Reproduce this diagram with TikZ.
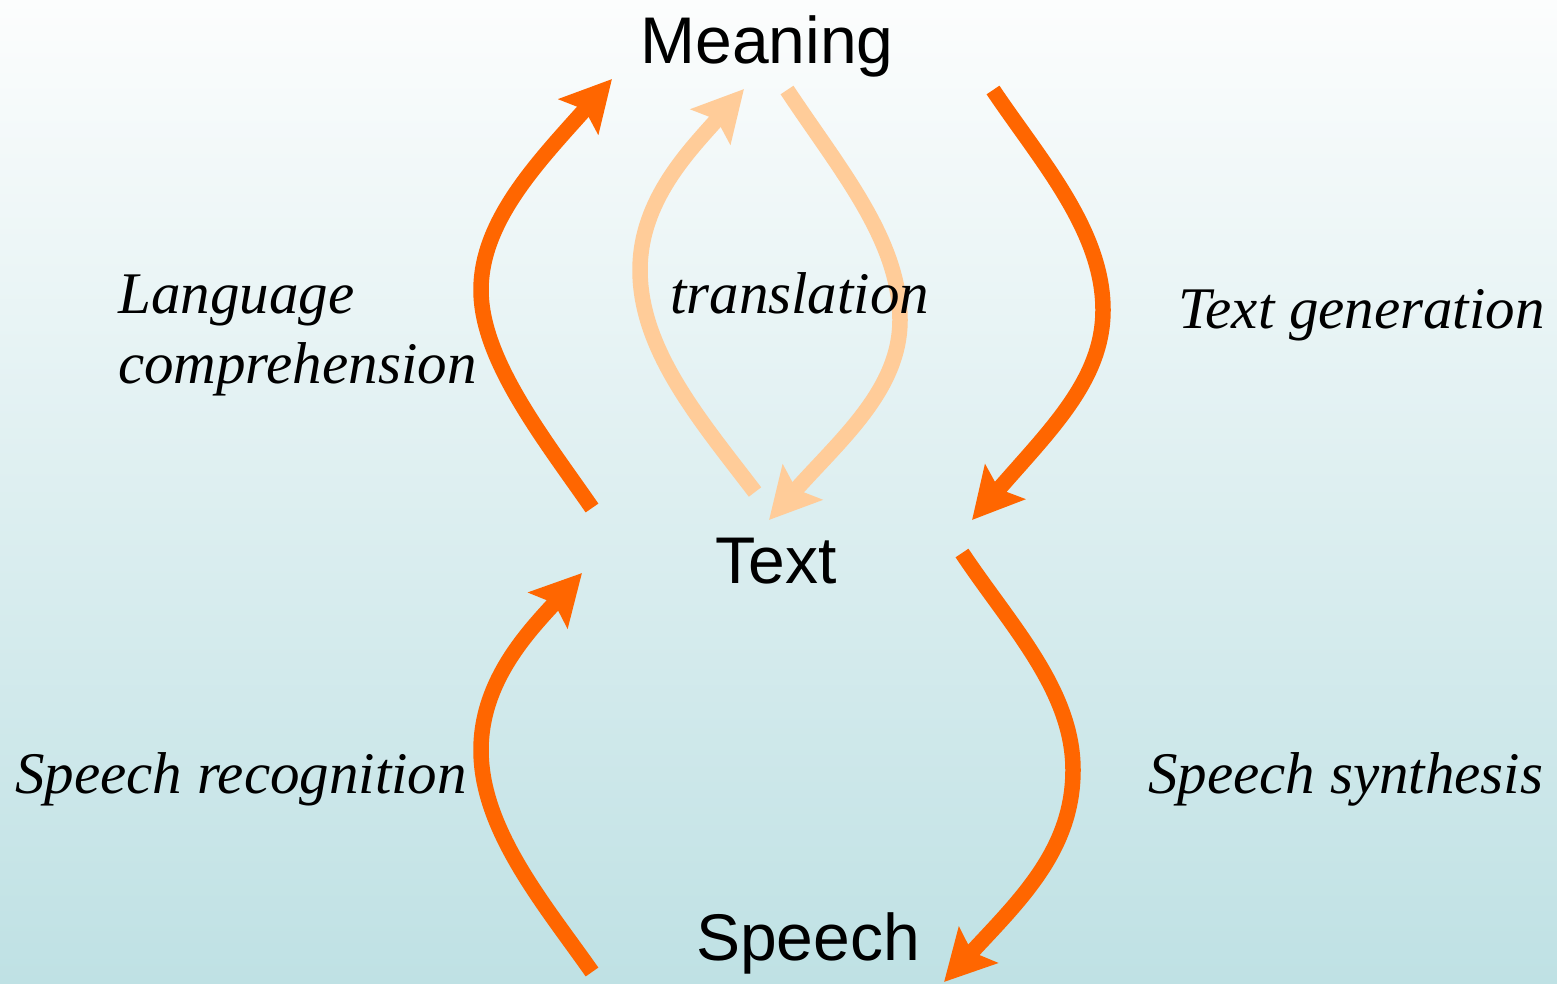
\documentclass[tikz,border=0pt]{standalone}
\usepackage{fontspec}
\setmainfont{Liberation Serif}
\setsansfont{Liberation Sans}
\usetikzlibrary{arrows.meta}
\definecolor{flowdark}{HTML}{FF6600}
\definecolor{flowlight}{HTML}{FFCC99}
\definecolor{bgtop}{RGB}{252,253,253}
\definecolor{bgbottom}{RGB}{191,225,228}
\tikzset{
  flow/.style={line width=15.5pt, line cap=butt,
    -{Stealth[length=50pt,width=52pt,inset=9pt]}},
  strong/.style={flow, draw=flowdark},
  soft/.style={flow, draw=flowlight},
  level/.style={font=\sffamily\fontsize{66}{70}\selectfont, inner sep=0pt, anchor=base},
  process/.style={font=\itshape\fontsize{59}{70}\selectfont, inner sep=0pt, anchor=base west, align=left}
}
\begin{document}
\begin{tikzpicture}[x=1pt, y=-1pt]
  \shade[top color=bgtop, bottom color=bgbottom] (0,0) rectangle (1557,983);
  \useasboundingbox (0,0) rectangle (1557,983);

  % the three levels
  \node[level] (meaning) at (767,63) {Meaning};
  \node[level] (text) at (776,583) {Text};
  \node[level] (speech) at (808,960) {Speech};

  % arrow end points
  \coordinate (lcA) at (592,508);  \coordinate (lcB) at (612,79);
  \coordinate (trA) at (755,492);  \coordinate (trB) at (744,89);
  \coordinate (trC) at (787,90);   \coordinate (trD) at (769,520);
  \coordinate (tgA) at (993,90);   \coordinate (tgB) at (972,520);
  \coordinate (srA) at (592,972);  \coordinate (srB) at (582,573);
  \coordinate (ssA) at (962,553);  \coordinate (ssB) at (944,982);

  % translation loop
  \draw[soft] (trA) .. controls (700,420) and (640,350) .. (640,270)
                    .. controls (640,200) and (690,150) .. (trB);
  \draw[soft] (trC) .. controls (840,170) and (900,240) .. (900,320)
                    .. controls (900,390) and (840,440) .. (trD);

  % text <-> meaning
  \draw[strong] (lcA) .. controls (545,440) and (481,360) .. (481,290)
                      .. controls (481,220) and (540,160) .. (lcB);
  \draw[strong] (tgA) .. controls (1040,160) and (1103,230) .. (1103,310)
                      .. controls (1103,380) and (1050,430) .. (tgB);

  % speech <-> text
  \draw[strong] (srA) .. controls (545,905) and (481,830) .. (481,750)
                      .. controls (481,680) and (530,630) .. (srB);
  \draw[strong] (ssA) .. controls (1010,625) and (1073,690) .. (1073,770)
                      .. controls (1073,850) and (1020,900) .. (ssB);

  % process labels, set over the arrows
  \node[process] (lc1) at (118,313) {Language};
  \node[process] (lc2) at (118,383) {comprehension};
  \node[process] (tr) at (670,313) {translation};
  \node[process] (tg) at (1178,328) {Text generation};
  \node[process] (sr) at (15,793) {Speech recognition};
  \node[process] (ss) at (1148,793) {Speech synthesis};
\end{tikzpicture}
\end{document}
